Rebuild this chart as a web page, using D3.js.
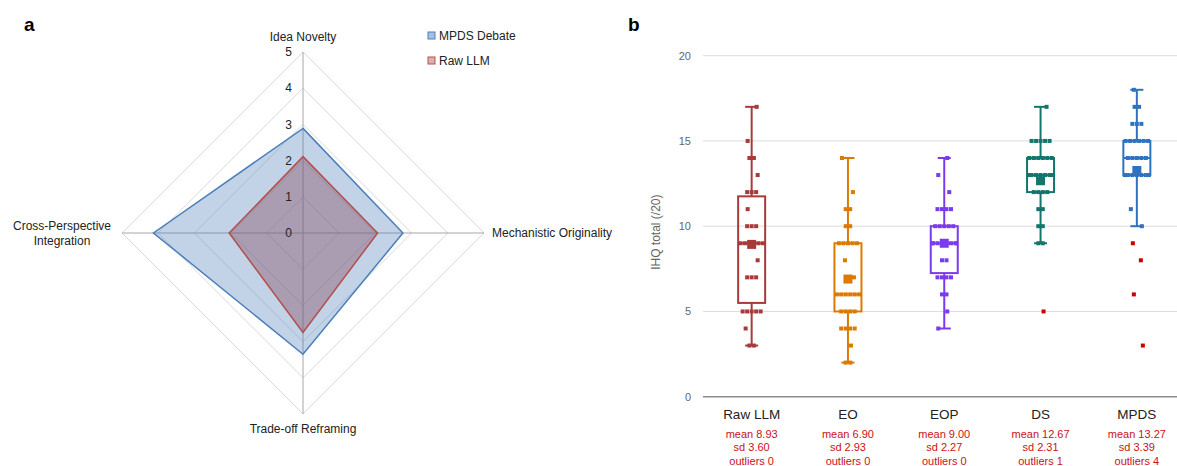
<!DOCTYPE html>
<html>
<head>
<meta charset="utf-8">
<script src="https://cdn.jsdelivr.net/npm/d3@7"></script>
<style>
  html, body { margin: 0; padding: 0; background: #fff; }
  svg { display: block; font-family: "Liberation Sans", Arial, sans-serif; }
</style>
</head>
<body>
<svg id="viz" width="1177" height="466"></svg>
<script>
// panel a: radar
const radarAxes = ['Idea Novelty', 'Mechanistic Originality', 'Trade-off Reframing', 'Cross-Perspective Integration'];
const mpdsScores = [2.89, 2.76, 3.35, 4.13];
const rawScores = [2.11, 2.06, 2.75, 2.04];
const radarTicks = [0, 1, 2, 3, 4, 5];

// panel b: box plots, 30 scores per condition
const groups = ['Raw LLM', 'EO', 'EOP', 'DS', 'MPDS'];
const rawLLM = [17, 15, 14, 14, 13, 12, 12, 12, 11, 10, 10, 10, 9, 9, 9, 9, 9, 9, 8, 7, 7, 7, 5, 5, 5, 5, 5, 4, 3, 3];
const eo = [14, 12, 11, 11, 10, 10, 9, 9, 9, 9, 9, 8, 7, 6, 6, 6, 6, 6, 6, 5, 5, 5, 5, 4, 4, 4, 4, 3, 2, 2];
const eop = [14, 13, 12, 11, 11, 11, 11, 10, 10, 10, 10, 10, 9, 9, 9, 9, 9, 9, 9, 9, 8, 8, 7, 7, 7, 7, 6, 6, 5, 4];
const ds = [17, 15, 15, 15, 15, 15, 14, 14, 14, 14, 14, 14, 13, 13, 13, 13, 13, 13, 13, 12, 12, 12, 12, 11, 11, 10, 10, 9, 9, 5];
const mpds = [18, 17, 17, 16, 16, 16, 15, 15, 15, 15, 15, 15, 14, 14, 14, 14, 14, 13, 13, 13, 13, 13, 13, 13, 11, 10, 9, 8, 6, 3];
const groupScores = [rawLLM, eo, eop, ds, mpds];
const meanLabels = ['mean 8.93', 'mean 6.90', 'mean 9.00', 'mean 12.67', 'mean 13.27'];
const sdLabels = ['sd 3.60', 'sd 2.93', 'sd 2.27', 'sd 2.31', 'sd 3.39'];
const outlierLabels = ['outliers 0', 'outliers 0', 'outliers 0', 'outliers 1', 'outliers 4'];
const yTicks = [0, 5, 10, 15, 20];

const groupColors = ['#a83a3a', '#dc7a00', '#7c3aed', '#12766d', '#2f72c0'];
const outlierColor = '#cc0000';
const statColor = '#cc1116';

const svg = d3.select('#viz');

// ---------- panel a ----------
const cx = 303, cy = 233;
const r = d3.scaleLinear().domain([0, 5]).range([0, 181]);
const angle = (i) => i * Math.PI / 2;
const radial = d3.lineRadial()
    .angle((d, i) => angle(i))
    .radius((d) => r(d))
    .curve(d3.curveLinearClosed);

const gA = svg.append('g').attr('transform', `translate(${cx},${cy})`);

gA.selectAll('path.ring')
    .data(radarTicks.slice(1))
    .enter()
    .append('path')
    .attr('class', 'ring')
    .attr('d', (t) => radial(radarAxes.map(() => t)))
    .attr('fill', 'none')
    .attr('stroke', '#d9d9d9')
    .attr('stroke-width', 1);

gA.selectAll('line.spoke')
    .data(radarAxes)
    .enter()
    .append('line')
    .attr('x1', 0).attr('y1', 0)
    .attr('x2', (d, i) => r(5) * Math.sin(angle(i)))
    .attr('y2', (d, i) => -r(5) * Math.cos(angle(i)))
    .attr('stroke', '#a6a6a6')
    .attr('stroke-width', 1);

gA.append('path')
    .attr('d', radial(mpdsScores))
    .attr('fill', '#4f81bd')
    .attr('fill-opacity', 0.35)
    .attr('stroke', '#4a7ebb')
    .attr('stroke-width', 1.5);

gA.append('path')
    .attr('d', radial(rawScores))
    .attr('fill', '#8a5064')
    .attr('fill-opacity', 0.42)
    .attr('stroke', '#b34f4b')
    .attr('stroke-width', 1.5);

gA.selectAll('text.tick')
    .data(radarTicks)
    .enter()
    .append('text')
    .attr('x', -11)
    .attr('y', (d) => -r(d))
    .attr('dy', '0.35em')
    .attr('text-anchor', 'end')
    .style('font-size', '12px')
    .style('fill', '#222')
    .text((d) => d);

// axis labels
const axisLabel = (x, y, lines, anchor) => {
    const t = gA.append('text')
        .attr('text-anchor', anchor)
        .style('font-size', '12px')
        .style('fill', '#222');
    lines.forEach((s, k) => {
        t.append('tspan').attr('x', x).attr('y', y + k * 14.5).text(s);
    });
};
axisLabel(0, -192, ['Idea Novelty'], 'middle');
axisLabel(189, 4, ['Mechanistic Originality'], 'start');
axisLabel(0, 200, ['Trade-off Reframing'], 'middle');
axisLabel(-241, -3, ['Cross-Perspective', 'Integration'], 'middle');

// legend
const legend = svg.append('g').attr('transform', 'translate(428,32)');
[['MPDS Debate', '#4a7ebb', '#a7c0de'], ['Raw LLM', '#b8504b', '#dcb0b0']].forEach((d, i) => {
    const g = legend.append('g').attr('transform', `translate(0,${i * 25})`);
    g.append('rect').attr('width', 7).attr('height', 7)
        .attr('fill', d[2]).attr('stroke', d[1]).attr('stroke-width', 1);
    g.append('text').attr('x', 11).attr('y', 4).attr('dy', '0.35em')
        .style('font-size', '12px').style('fill', '#222').text(d[0]);
});

svg.append('text').attr('x', 24).attr('y', 31)
    .style('font-size', '19px').style('font-weight', 'bold').text('a');

// ---------- panel b ----------
svg.append('text').attr('x', 628).attr('y', 31)
    .style('font-size', '19px').style('font-weight', 'bold').text('b');

const plotLeft = 703, plotRight = 1177;
const y = d3.scaleLinear().domain([0, 20]).range([396.7, 55.7]);
const x = d3.scaleBand().domain(groups).range([703.5, 1185]);
const xc = (g) => x(g) + x.bandwidth() / 2;

const gB = svg.append('g');

gB.selectAll('line.grid')
    .data(yTicks.slice(1))
    .enter()
    .append('line')
    .attr('x1', plotLeft).attr('x2', plotRight)
    .attr('y1', (d) => y(d)).attr('y2', (d) => y(d))
    .attr('stroke', '#dcdcdc').attr('stroke-width', 1);

gB.append('line')
    .attr('x1', plotLeft).attr('x2', plotRight)
    .attr('y1', y(0)).attr('y2', y(0))
    .attr('stroke', '#8c8c8c').attr('stroke-width', 1.5);

gB.selectAll('text.ytick')
    .data(yTicks)
    .enter()
    .append('text')
    .attr('x', 691)
    .attr('y', (d) => y(d))
    .attr('dy', '0.35em')
    .attr('text-anchor', 'end')
    .style('font-size', '11px')
    .style('fill', '#666')
    .text((d) => d);

svg.append('text')
    .attr('transform', `translate(660,${(y(0) + y(20)) / 2 + 6}) rotate(-90)`)
    .attr('text-anchor', 'middle')
    .style('font-size', '12px')
    .style('fill', '#666')
    .text('IHQ total (/20)');

const singleShift = [-4, 5, -6, 3, 6, -3, 4];

groups.forEach((name, gi) => {
    const vals = groupScores[gi].slice().sort(d3.ascending);
    const q1 = d3.quantile(vals, 0.25);
    const med = d3.quantile(vals, 0.5);
    const q3 = d3.quantile(vals, 0.75);
    const iqr = q3 - q1;
    const inside = vals.filter((v) => v >= q1 - 1.5 * iqr && v <= q3 + 1.5 * iqr);
    const lo = d3.min(inside), hi = d3.max(inside);
    const mean = d3.mean(vals);
    const c = xc(name);
    const col = groupColors[gi];
    const half = 13.5, cap = 6.5;
    const g = gB.append('g');

    // whiskers
    g.append('line').attr('x1', c).attr('x2', c).attr('y1', y(hi)).attr('y2', y(q3))
        .attr('stroke', col).attr('stroke-width', 2);
    g.append('line').attr('x1', c).attr('x2', c).attr('y1', y(q1)).attr('y2', y(lo))
        .attr('stroke', col).attr('stroke-width', 2);
    [lo, hi].forEach((v) => {
        g.append('line').attr('x1', c - cap).attr('x2', c + cap).attr('y1', y(v)).attr('y2', y(v))
            .attr('stroke', col).attr('stroke-width', 2);
    });
    // box
    g.append('rect')
        .attr('x', c - half).attr('width', half * 2)
        .attr('y', y(q3)).attr('height', y(q1) - y(q3))
        .attr('fill', 'none').attr('stroke', col).attr('stroke-width', 2);
    g.append('line').attr('x1', c - half).attr('x2', c + half).attr('y1', y(med)).attr('y2', y(med))
        .attr('stroke', col).attr('stroke-width', 2);

    // points: spread repeated values side by side
    const counts = d3.rollup(vals, (v) => v.length, (v) => v);
    const seen = new Map();
    const pts = vals.map((v, i) => {
        const n = counts.get(v);
        const k = seen.get(v) || 0;
        seen.set(v, k + 1);
        const dx = n === 1 ? singleShift[(i + gi) % singleShift.length]
            : Math.max(-12, Math.min(12, (k - (n - 1) / 2) * 4.5));
        return {v, dx, out: v < lo || v > hi};
    });
    g.selectAll('rect.pt')
        .data(pts)
        .enter()
        .append('rect')
        .attr('x', (d) => c + d.dx - 2)
        .attr('y', (d) => y(d.v) - 2)
        .attr('width', 4).attr('height', 4)
        .attr('fill', (d) => d.out ? outlierColor : col);

    // mean marker
    g.append('rect')
        .attr('x', c - 4.5).attr('y', y(mean) - 4.5)
        .attr('width', 9).attr('height', 9)
        .attr('fill', col);

    // labels
    g.append('text').attr('x', c).attr('y', 414).attr('dy', '0.35em')
        .attr('text-anchor', 'middle').style('font-size', '13.5px').style('fill', '#222').text(name);
    [meanLabels[gi], sdLabels[gi], outlierLabels[gi]].forEach((s, k) => {
        g.append('text').attr('x', c).attr('y', 434 + k * 13.5).attr('dy', '0.35em')
            .attr('text-anchor', 'middle').style('font-size', '11px').style('fill', statColor).text(s);
    });
});
</script>
</body>
</html>
